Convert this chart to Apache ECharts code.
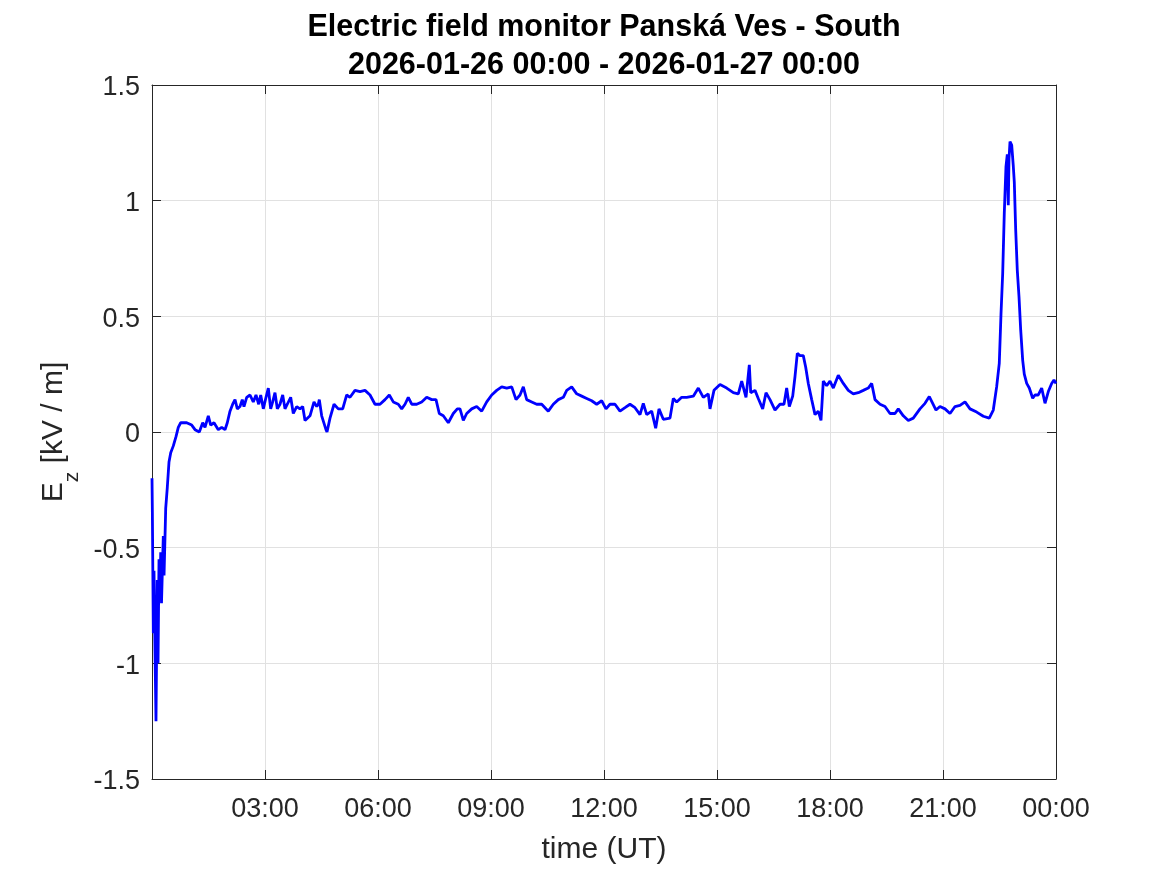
<!DOCTYPE html>
<html>
<head>
<meta charset="utf-8">
<script src="https://cdn.jsdelivr.net/npm/echarts@6/dist/echarts.min.js"></script>
<style>
html,body{margin:0;padding:0;background:#fff;}
#chart{width:1167px;height:875px;}
</style>
</head>
<body>
<div id="chart"></div>
<script>
// Time in hours since 2026-01-26 00:00 UT
const timeHours = [
  0.000, 0.010, 0.035, 0.053, 0.080, 0.106, 0.125, 0.140, 0.160, 0.186,
  0.212, 0.231, 0.252, 0.300, 0.320, 0.364, 0.406, 0.451, 0.497, 0.566,
  0.637, 0.698, 0.762, 0.921, 1.054, 1.142, 1.256, 1.346, 1.407, 1.495,
  1.558, 1.646, 1.760, 1.850, 1.938, 1.999, 2.071, 2.142, 2.204, 2.265,
  2.336, 2.397, 2.442, 2.514, 2.602, 2.689, 2.761, 2.833, 2.886, 2.955,
  3.027, 3.088, 3.151, 3.204, 3.265, 3.327, 3.398, 3.470, 3.531, 3.592,
  3.682, 3.751, 3.842, 3.929, 4.001, 4.062, 4.195, 4.301, 4.373, 4.415,
  4.442, 4.505, 4.619, 4.646, 4.726, 4.832, 4.946, 5.063, 5.169, 5.257,
  5.389, 5.522, 5.655, 5.788, 5.920, 6.053, 6.186, 6.300, 6.406, 6.539,
  6.629, 6.717, 6.804, 6.895, 7.027, 7.160, 7.293, 7.426, 7.540, 7.627,
  7.734, 7.866, 7.999, 8.105, 8.177, 8.265, 8.355, 8.488, 8.620, 8.753,
  8.886, 9.019, 9.151, 9.284, 9.417, 9.550, 9.664, 9.770, 9.858, 9.948,
  10.081, 10.213, 10.346, 10.521, 10.654, 10.787, 10.920, 11.010, 11.142, 11.275,
  11.408, 11.541, 11.673, 11.806, 11.939, 12.053, 12.159, 12.292, 12.425, 12.558,
  12.690, 12.823, 12.956, 13.043, 13.134, 13.266, 13.372, 13.460, 13.574, 13.752,
  13.840, 13.930, 14.063, 14.195, 14.371, 14.504, 14.636, 14.769, 14.814, 14.920,
  15.080, 15.257, 15.433, 15.566, 15.656, 15.770, 15.858, 15.895, 16.009, 16.096,
  16.213, 16.301, 16.407, 16.540, 16.672, 16.779, 16.850, 16.920, 17.010, 17.071,
  17.132, 17.203, 17.291, 17.355, 17.424, 17.514, 17.602, 17.689, 17.761, 17.822,
  17.912, 18.000, 18.088, 18.220, 18.353, 18.486, 18.618, 18.751, 18.884, 19.016,
  19.107, 19.195, 19.328, 19.460, 19.593, 19.726, 19.813, 19.946, 20.079, 20.211,
  20.389, 20.522, 20.636, 20.726, 20.814, 20.920, 21.053, 21.186, 21.319, 21.451,
  21.584, 21.717, 21.894, 22.070, 22.229, 22.335, 22.425, 22.494, 22.540, 22.585,
  22.627, 22.672, 22.707, 22.733, 22.752, 22.779, 22.824, 22.866, 22.893, 22.930,
  22.972, 23.018, 23.063, 23.116, 23.158, 23.222, 23.291, 23.381, 23.442, 23.530,
  23.620, 23.708, 23.796, 23.885, 23.946, 24.000
];
// Vertical electric field Ez in kV/m
const ezValues = [
  -0.20, -0.35, -0.87, -0.60, -0.95, -1.25, -0.90, -0.64, -1.00, -0.55,
  -0.70, -0.52, -0.74, -0.45, -0.62, -0.33, -0.24, -0.13, -0.09, -0.06,
  -0.02, 0.02, 0.04, 0.04, 0.03, 0.01, 0.00, 0.04, 0.02, 0.07,
  0.03, 0.04, 0.01, 0.02, 0.01, 0.04, 0.09, 0.12, 0.14, 0.10,
  0.11, 0.14, 0.11, 0.15, 0.16, 0.13, 0.16, 0.12, 0.16, 0.10,
  0.15, 0.19, 0.10, 0.13, 0.17, 0.10, 0.12, 0.16, 0.10, 0.12,
  0.15, 0.08, 0.11, 0.10, 0.11, 0.05, 0.07, 0.13, 0.11, 0.12,
  0.14, 0.07, 0.01, 0.00, 0.06, 0.12, 0.10, 0.10, 0.16, 0.15,
  0.18, 0.175, 0.18, 0.16, 0.12, 0.12, 0.14, 0.16, 0.13, 0.12,
  0.10, 0.12, 0.15, 0.12, 0.12, 0.13, 0.15, 0.14, 0.14, 0.08,
  0.07, 0.04, 0.08, 0.10, 0.10, 0.05, 0.08, 0.10, 0.11, 0.09,
  0.13, 0.16, 0.18, 0.195, 0.19, 0.195, 0.14, 0.16, 0.195, 0.14,
  0.13, 0.12, 0.12, 0.09, 0.12, 0.14, 0.15, 0.18, 0.195, 0.165,
  0.155, 0.145, 0.135, 0.12, 0.135, 0.10, 0.12, 0.12, 0.09, 0.105,
  0.12, 0.105, 0.075, 0.124, 0.075, 0.09, 0.016, 0.10, 0.055, 0.06,
  0.145, 0.13, 0.15, 0.15, 0.155, 0.19, 0.15, 0.165, 0.10, 0.18,
  0.205, 0.19, 0.17, 0.165, 0.22, 0.15, 0.29, 0.17, 0.18, 0.145,
  0.10, 0.17, 0.14, 0.095, 0.12, 0.12, 0.19, 0.11, 0.155, 0.24,
  0.34, 0.33, 0.33, 0.28, 0.21, 0.14, 0.075, 0.09, 0.05, 0.22,
  0.20, 0.22, 0.19, 0.245, 0.21, 0.18, 0.165, 0.17, 0.18, 0.19,
  0.21, 0.14, 0.12, 0.11, 0.08, 0.08, 0.10, 0.07, 0.05, 0.06,
  0.10, 0.124, 0.153, 0.124, 0.095, 0.11, 0.10, 0.08, 0.11, 0.115,
  0.13, 0.10, 0.086, 0.068, 0.06, 0.095, 0.196, 0.297, 0.51, 0.686,
  0.945, 1.147, 1.20, 0.98, 1.18, 1.255, 1.24, 1.15, 1.08, 0.873,
  0.70, 0.584, 0.44, 0.31, 0.25, 0.21, 0.19, 0.146, 0.16, 0.16,
  0.19, 0.124, 0.175, 0.21, 0.225, 0.21
];
const xTickLabels = ['', '03:00', '06:00', '09:00', '12:00', '15:00', '18:00', '21:00', '00:00'];
const titleLines = ['Electric field monitor Panská Ves - South', '2026-01-26 00:00 - 2026-01-27 00:00'];

const FONT = 'Liberation Sans, Arial, Helvetica, sans-serif';
const AX = '#262626';
const GRID = '#e1e1e1';

const seriesData = timeHours.map((t, i) => [t, ezValues[i]]);

const chart = echarts.init(document.getElementById('chart'), null, {renderer: 'canvas'});
const xCommon = {
  type: 'value', min: 0, max: 24, interval: 3,
  axisLine: {show: true, onZero: false, lineStyle: {color: AX, width: 1}},
  axisTick: {show: true, inside: true, length: 9, lineStyle: {color: AX, width: 1}}
};
const yCommon = {
  type: 'value', min: -1.5, max: 1.5, interval: 0.5,
  axisLine: {show: true, onZero: false, lineStyle: {color: AX, width: 1}},
  axisTick: {show: true, inside: true, length: 9, lineStyle: {color: AX, width: 1}}
};
chart.setOption({
  animation: false,
  backgroundColor: '#ffffff',
  title: {
    text: titleLines.join('\n'),
    left: 599, textAlign: 'center', top: 4,
    textStyle: {fontFamily: FONT, fontSize: 30.5, fontWeight: 'bold', color: '#000', lineHeight: 38}
  },
  grid: {left: 152, right: 111, top: 85, bottom: 96, containLabel: false},
  xAxis: [
    Object.assign({}, xCommon, {
      position: 'bottom',
      name: 'time (UT)', nameLocation: 'middle', nameGap: 56,
      nameTextStyle: {fontFamily: FONT, fontSize: 30, color: AX},
      axisLabel: {
        show: true, margin: 17, fontFamily: FONT, fontSize: 27, color: AX,
        formatter: (v) => xTickLabels[Math.round(v / 3)] ?? ''
      },
      splitLine: {show: true, lineStyle: {color: GRID, width: 1}}
    }),
    Object.assign({}, xCommon, {
      position: 'top', axisLabel: {show: false}, splitLine: {show: false}
    })
  ],
  yAxis: [
    Object.assign({}, yCommon, {
      position: 'left',
      name: '{a|E}{b|z}{a| [kV / m]}', nameLocation: 'middle', nameRotate: 90, nameGap: 69,
      nameTextStyle: {
        fontFamily: FONT, color: AX,
        rich: {
          a: {fontFamily: FONT, fontSize: 30, lineHeight: 30, color: AX},
          b: {fontFamily: FONT, fontSize: 21, lineHeight: 21, color: AX, padding: [36, 0, 0, 0]}
        }
      },
      axisLabel: {
        show: true, margin: 12, fontFamily: FONT, fontSize: 27, color: AX,
        formatter: (v) => '{t|' + v + '}',
        rich: {t: {fontFamily: FONT, fontSize: 27, lineHeight: 27, color: AX, padding: [6, 0, 0, 0]}}
      },
      splitLine: {show: true, lineStyle: {color: GRID, width: 1}}
    }),
    Object.assign({}, yCommon, {
      position: 'right', axisLabel: {show: false}, splitLine: {show: false}
    })
  ],
  series: [{
    type: 'line',
    xAxisIndex: 0, yAxisIndex: 0,
    data: seriesData,
    showSymbol: false,
    symbol: 'none',
    lineStyle: {color: '#0000ff', width: 2.8},
    z: 5
  }]
});
</script>
</body>
</html>
